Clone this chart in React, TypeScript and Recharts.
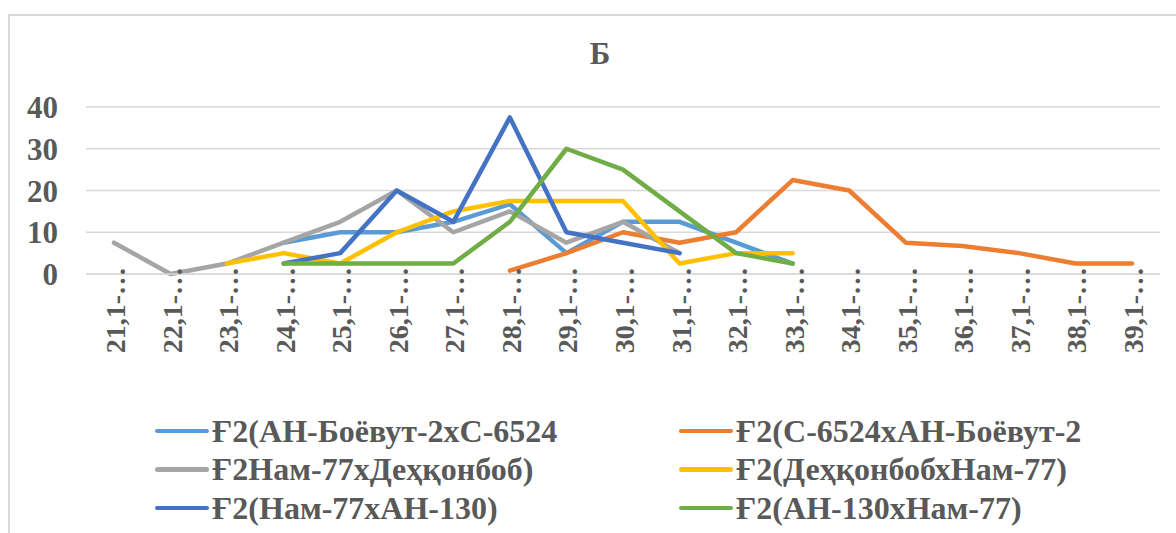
import { LineChart, Line, XAxis, YAxis, CartesianGrid } from 'recharts';

// ── data ─────────────────────────────────────────────────────────────────────

const CATEGORIES = [
  '21,1-…', '22,1-…', '23,1-…', '24,1-…', '25,1-…', '26,1-…', '27,1-…',
  '28,1-…', '29,1-…', '30,1-…', '31,1-…', '32,1-…', '33,1-…', '34,1-…',
  '35,1-…', '36,1-…', '37,1-…', '38,1-…', '39,1-…',
];

type V = number | null;

// one value per category, null where the series has no point
const AN_BOEVUT_X_C6524: V[] = [null, null, null, 7.5, 10, 10, 12.5, 16.7, 5, 12.5, 12.5, 7.5, 2.5, null, null, null, null, null, null];
const C6524_X_AN_BOEVUT: V[] = [null, null, null, null, null, null, null, 0.8, 5, 10, 7.5, 10, 22.5, 20, 7.5, 6.7, 5, 2.5, 2.5];
const NAM77_X_DEHKONBOB: V[] = [7.5, 0, 2.5, 7.5, 12.5, 20, 10, 15, 7.5, 12.5, 5, null, null, null, null, null, null, null, null];
const DEHKONBOB_X_NAM77: V[] = [null, null, 2.5, 5, 2.5, 10, 15, 17.5, 17.5, 17.5, 2.5, 5, 5, null, null, null, null, null, null];
const NAM77_X_AN130: V[] = [null, null, null, 2.5, 5, 20, 12.5, 37.5, 10, 7.5, 5, null, null, null, null, null, null, null, null];
const AN130_X_NAM77: V[] = [null, null, null, 2.5, 2.5, 2.5, 2.5, 12.5, 30, 25, 15, 5, 2.5, null, null, null, null, null, null];

const Y_TICKS = [0, 10, 20, 30, 40];

const SERIES = [
  { key: 's1', name: 'Ғ2(АН-Боёвут-2хС-6524', color: '#5b9bd5', values: AN_BOEVUT_X_C6524 },
  { key: 's2', name: 'Ғ2(С-6524хАН-Боёвут-2', color: '#ed7d31', values: C6524_X_AN_BOEVUT },
  { key: 's3', name: 'Ғ2Нам-77хДеҳқонбоб)', color: '#a5a5a5', values: NAM77_X_DEHKONBOB },
  { key: 's4', name: 'Ғ2(ДеҳқонбобхНам-77)', color: '#ffc000', values: DEHKONBOB_X_NAM77 },
  { key: 's5', name: 'Ғ2(Нам-77хАН-130)', color: '#4472c4', values: NAM77_X_AN130 },
  { key: 's6', name: 'Ғ2(АН-130хНам-77)', color: '#70ad47', values: AN130_X_NAM77 },
];

const data = CATEGORIES.map((c, i) => {
  const row: Record<string, string | V> = { name: c };
  SERIES.forEach((s) => (row[s.key] = s.values[i]));
  return row;
});

const FONT = '"Liberation Serif", "Times New Roman", serif';
const TEXT = '#595959';
const GRID = '#d9d9d9';

function XTick(props: any) {
  const { x, y, payload } = props;
  return (
    <g transform={`translate(${x + 11},${y - 9}) rotate(-90)`}>
      <text x={0} y={0} textAnchor="end" fill={TEXT} fontFamily={FONT} fontWeight="bold" fontSize={28}>
        {payload.value}
      </text>
    </g>
  );
}

export default function App() {
  return (
    <div style={{ position: 'absolute', left: 0, top: 0, width: 1176, height: 533, overflow: 'hidden', background: '#fff' }}>
      {/* chart frame, runs past the picture's right and bottom edges */}
      <div style={{ position: 'absolute', left: 8, top: 14, width: 1200, height: 560, border: `2px solid ${GRID}` }} />
      <div
        style={{
          position: 'absolute', left: 0, top: 34, width: 1200, textAlign: 'center',
          fontFamily: FONT, fontWeight: 'bold', fontSize: 31, color: TEXT, lineHeight: '40px',
        }}
      >
        Б
      </div>
      <div style={{ position: 'absolute', left: 0, top: 0 }}>
        <LineChart width={1176} height={533} data={data} margin={{ top: 107, right: 16, left: 0, bottom: 139 }}>
          <CartesianGrid vertical={false} stroke={GRID} strokeWidth={1.5} />
          <XAxis
            dataKey="name"
            interval={0}
            height={120}
            padding={{ left: 28, right: 28 }}
            tickLine={false}
            tickSize={0}
            axisLine={{ stroke: GRID, strokeWidth: 1.5 }}
            tick={<XTick />}
          />
          <YAxis
            domain={[0, 40]}
            ticks={Y_TICKS}
            width={86}
            axisLine={false}
            tickLine={false}
            tickSize={0}
            tickMargin={28}
            tick={{ fontFamily: FONT, fontWeight: 'bold', fontSize: 31, fill: TEXT }}
          />
          {SERIES.map((s) => (
            <Line
              key={s.key}
              dataKey={s.key}
              name={s.name}
              stroke={s.color}
              strokeWidth={4.5}
              strokeLinecap="round"
              strokeLinejoin="round"
              dot={false}
              activeDot={false}
              connectNulls={false}
              isAnimationActive={false}
            />
          ))}
        </LineChart>
      </div>
      {/* legend, two columns */}
      {SERIES.map((s, i) => {
        const col = i % 2;
        const row = Math.floor(i / 2);
        return (
          <div
            key={s.key}
            style={{
              position: 'absolute', left: col === 0 ? 155 : 679, top: 412 + row * 38.5,
              display: 'flex', alignItems: 'center', height: 38,
              fontFamily: FONT, fontWeight: 'bold', fontSize: 32, color: TEXT, whiteSpace: 'nowrap',
            }}
          >
            <span style={{ display: 'inline-block', width: 54, height: 4.5, borderRadius: 3, background: s.color, marginRight: 3 }} />
            {s.name}
          </div>
        );
      })}
    </div>
  );
}
